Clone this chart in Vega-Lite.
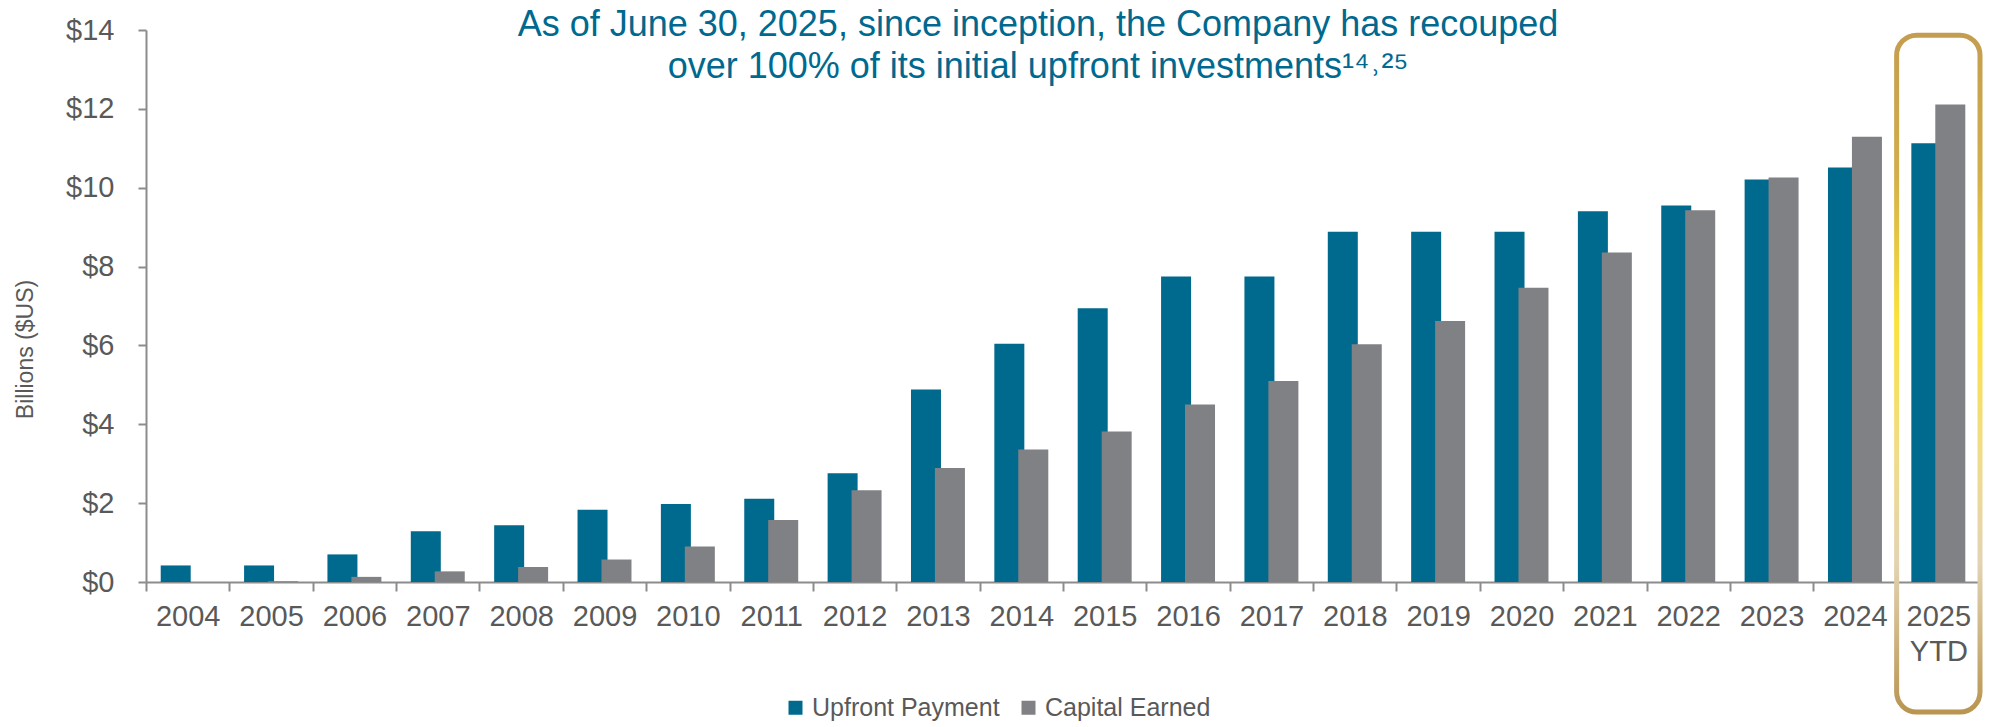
{
  "$schema": "https://vega.github.io/schema/vega-lite/v6.json",
  "width": 1834,
  "height": 552,
  "autosize": "none",
  "padding": {"left": 146, "top": 30, "right": 10, "bottom": 145},
  "config": {"view": {"stroke": null}, "font": "Liberation Sans"},
  "title": {
    "text": ["As of June 30, 2025, since inception, the Company has recouped", "over 100% of its initial upfront investments¹⁴˒²⁵"],
    "fontSize": 36,
    "fontWeight": "normal",
    "color": "#00698f",
    "anchor": "middle",
    "frame": "group",
    "lineHeight": 42,
    "offset": -70,
    "dx": -25
  },
  "datasets": {
    "bars": [
      {"year": "2004", "series": "Upfront Payment", "value": 0.42},
      {"year": "2004", "series": "Capital Earned", "value": 0.0},
      {"year": "2005", "series": "Upfront Payment", "value": 0.42},
      {"year": "2005", "series": "Capital Earned", "value": 0.02},
      {"year": "2006", "series": "Upfront Payment", "value": 0.7},
      {"year": "2006", "series": "Capital Earned", "value": 0.13},
      {"year": "2007", "series": "Upfront Payment", "value": 1.29},
      {"year": "2007", "series": "Capital Earned", "value": 0.27},
      {"year": "2008", "series": "Upfront Payment", "value": 1.44},
      {"year": "2008", "series": "Capital Earned", "value": 0.38},
      {"year": "2009", "series": "Upfront Payment", "value": 1.83},
      {"year": "2009", "series": "Capital Earned", "value": 0.57},
      {"year": "2010", "series": "Upfront Payment", "value": 1.98},
      {"year": "2010", "series": "Capital Earned", "value": 0.9},
      {"year": "2011", "series": "Upfront Payment", "value": 2.11},
      {"year": "2011", "series": "Capital Earned", "value": 1.57},
      {"year": "2012", "series": "Upfront Payment", "value": 2.76},
      {"year": "2012", "series": "Capital Earned", "value": 2.33},
      {"year": "2013", "series": "Upfront Payment", "value": 4.88},
      {"year": "2013", "series": "Capital Earned", "value": 2.89},
      {"year": "2014", "series": "Upfront Payment", "value": 6.04},
      {"year": "2014", "series": "Capital Earned", "value": 3.36},
      {"year": "2015", "series": "Upfront Payment", "value": 6.94},
      {"year": "2015", "series": "Capital Earned", "value": 3.82},
      {"year": "2016", "series": "Upfront Payment", "value": 7.75},
      {"year": "2016", "series": "Capital Earned", "value": 4.5},
      {"year": "2017", "series": "Upfront Payment", "value": 7.75},
      {"year": "2017", "series": "Capital Earned", "value": 5.1},
      {"year": "2018", "series": "Upfront Payment", "value": 8.88},
      {"year": "2018", "series": "Capital Earned", "value": 6.03},
      {"year": "2019", "series": "Upfront Payment", "value": 8.88},
      {"year": "2019", "series": "Capital Earned", "value": 6.62},
      {"year": "2020", "series": "Upfront Payment", "value": 8.88},
      {"year": "2020", "series": "Capital Earned", "value": 7.46},
      {"year": "2021", "series": "Upfront Payment", "value": 9.4},
      {"year": "2021", "series": "Capital Earned", "value": 8.36},
      {"year": "2022", "series": "Upfront Payment", "value": 9.55},
      {"year": "2022", "series": "Capital Earned", "value": 9.43},
      {"year": "2023", "series": "Upfront Payment", "value": 10.21},
      {"year": "2023", "series": "Capital Earned", "value": 10.26},
      {"year": "2024", "series": "Upfront Payment", "value": 10.51},
      {"year": "2024", "series": "Capital Earned", "value": 11.29},
      {"year": "2025 YTD", "series": "Upfront Payment", "value": 11.13},
      {"year": "2025 YTD", "series": "Capital Earned", "value": 12.11}
    ],
    "box": [{"year": "2025 YTD", "top": 13.87, "bottom": -3.3}]
  },
  "layer": [
    {
      "data": {"name": "bars"},
      "mark": {"type": "bar", "width": 30},
      "encoding": {
        "x": {
          "field": "year",
          "type": "nominal",
          "sort": null,
          "scale": {"paddingInner": 0, "paddingOuter": 0},
          "axis": {
            "title": null,
            "labelAngle": 0,
            "labelFontSize": 29,
            "labelColor": "#595959",
            "labelPadding": 11,
            "labelLineHeight": 35,
            "labelExpr": "split(datum.label, ' ')",
            "tickBand": "extent",
            "tickSize": 9,
            "tickColor": "#8c8c8c",
            "domainColor": "#8c8c8c",
            "domainWidth": 2,
            "tickWidth": 2
          }
        },
        "xOffset": {
          "field": "series",
          "sort": ["Upfront Payment", "Capital Earned"],
          "scale": {"paddingInner": 0, "paddingOuter": 0.74}
        },
        "y": {
          "field": "value",
          "type": "quantitative",
          "scale": {"domain": [0, 14], "nice": false},
          "axis": {
            "title": "Billions ($US)",
            "titleFontSize": 23,
            "titleFontWeight": "normal",
            "titleColor": "#595959",
            "titleX": -121,
            "titleY": 319,
            "titleBaseline": "middle",
            "titleAlign": "center",
            "values": [0, 2, 4, 6, 8, 10, 12, 14],
            "labelExpr": "'$' + datum.value",
            "labelFontSize": 29,
            "labelColor": "#595959",
            "labelPadding": 24,
            "tickSize": 8,
            "tickColor": "#8c8c8c",
            "tickWidth": 2,
            "domainColor": "#8c8c8c",
            "domainWidth": 2,
            "grid": false
          }
        },
        "color": {
          "field": "series",
          "type": "nominal",
          "sort": ["Upfront Payment", "Capital Earned"],
          "scale": {"domain": ["Upfront Payment", "Capital Earned"], "range": ["#006a8e", "#808184"]},
          "legend": {
            "title": null,
            "orient": "none",
            "legendX": 637,
            "legendY": 665,
            "direction": "horizontal",
            "symbolType": "square",
            "symbolSize": 196,
            "symbolStrokeWidth": 0,
            "labelFontSize": 25,
            "labelLimit": 400,
            "labelColor": "#595959",
            "labelOffset": 4,
            "columnPadding": 16
          }
        }
      }
    },
    {
      "data": {"name": "box"},
      "mark": {
        "type": "rect",
        "clip": false,
        "fill": "transparent",
        "strokeWidth": 5,
        "cornerRadius": 20,
        "stroke": {
          "gradient": "linear",
          "x1": 0, "y1": 0, "x2": 0, "y2": 1,
          "stops": [
            {"offset": 0, "color": "#c49d50"},
            {"offset": 0.2, "color": "#d2ad4a"},
            {"offset": 0.42, "color": "#fbe23c"},
            {"offset": 0.62, "color": "#f0dc8a"},
            {"offset": 0.78, "color": "#e3d3b3"},
            {"offset": 1, "color": "#b99550"}
          ]
        }
      },
      "encoding": {
        "x": {"field": "year", "type": "nominal"},
        "y": {"field": "top", "type": "quantitative"},
        "y2": {"field": "bottom"}
      }
    }
  ]
}
